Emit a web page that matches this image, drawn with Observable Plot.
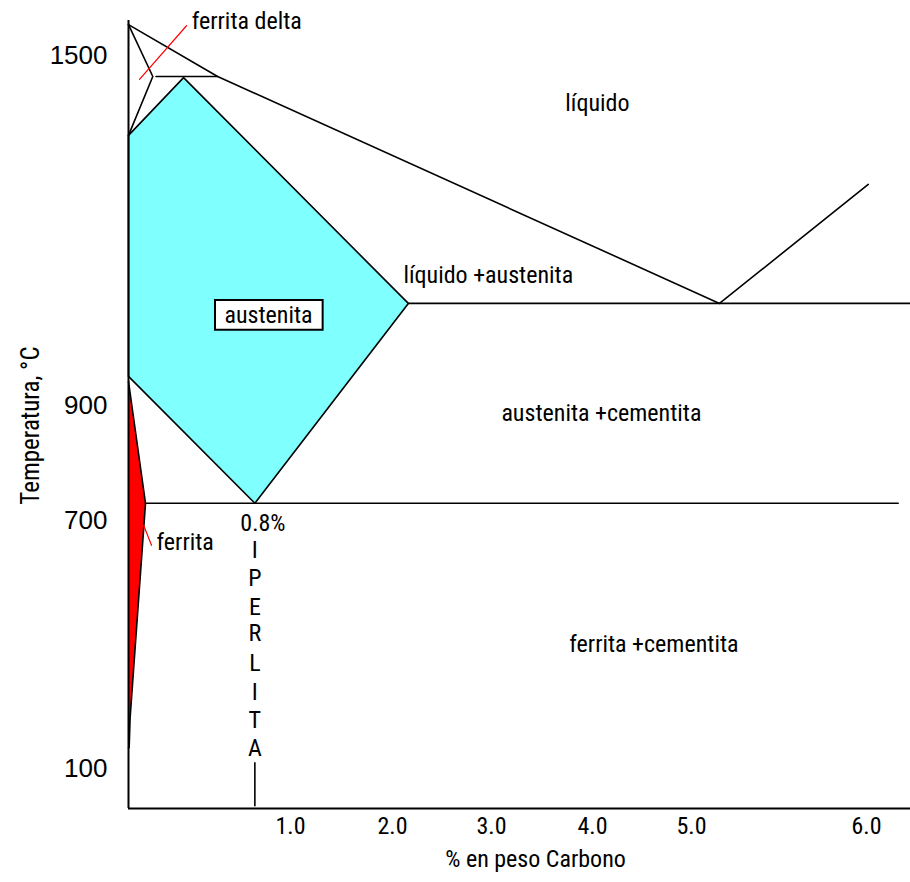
<!DOCTYPE html>
<html>
<head>
<meta charset="utf-8">
<script src="https://cdn.jsdelivr.net/npm/d3@7"></script>
<script src="https://cdn.jsdelivr.net/npm/@observablehq/plot@0.6"></script>
<style>
  body { margin: 0; background: #fff; }
  #chart svg { display: block; }
  #chart g[aria-label="y-axis tick label"] text { font-family: 'Liberation Sans', Arial, sans-serif; }
</style>
</head>
<body>
<div id="chart"></div>
<script>
// ---- Tick labels of the schematic diagram ----
const xTicks = [1, 2, 3, 4, 5, 6];          // % en peso Carbono
const yTicks = [100, 700, 900, 1500];       // Temperatura, °C

// Breakpoints of the (non-uniform, schematic) axes
const xBreaks = [0, 1, 2, 3, 4, 5, 6, 6.25];
const yBreaks = [0, 100, 700, 900, 1500, 1560];

// ---- Phase boundaries (c = % C, t = °C) ----
const liquidus   = [{c: 0, t: 1553}, {c: 0.55, t: 1464}, {c: 5.16, t: 1075}, {c: 6.01, t: 1279}];
const deltaLines = [{c: 0, t: 1553}, {c: 0.15, t: 1464}, {c: 0, t: 1363}];
const peritectic = [{c: 0.17, t: 1464}, {c: 0.55, t: 1464}];
const austenite  = [{c: 0, t: 1363}, {c: 0.34, t: 1462}, {c: 2.16, t: 1075}, {c: 0.78, t: 730}, {c: 0, t: 950}, {c: 0, t: 1363}];
const eutectic   = [{c: 2.16, t: 1075}, {c: 6.25, t: 1075}];
const eutectoid  = [{c: 0.105, t: 730}, {c: 6.18, t: 730}];
const ferrite    = [{c: 0, t: 941}, {c: 0.105, t: 730}, {c: 0.01, t: 223}, {c: 0.004, t: 150}, {c: 0, t: 150}];
const perlitaBar = [{c: 0.78, t: 114}, {c: 0.78, t: 7}];

// Red leader lines
const deltaPointer   = [{c: 0.068, t: 1459}, {c: 0.358, t: 1551}];
const ferritaPointer = [{c: 0.094, t: 688}, {c: 0.142, t: 640}];

// ---- Labels ----
const labelsMiddle = [
  {text: "líquido", c: 4.05, t: 1418},
  {text: "austenita +cementita", c: 4.09, t: 886},
  {text: "ferrita +cementita", c: 4.62, t: 400},
  {text: "austenita", c: 0.864, t: 1054},
  {text: "0.8%", c: 0.83, t: 692}
];
const labelsStart = [
  {text: "ferrita delta", c: 0.39, t: 1558},
  {text: "líquido +austenita", c: 2.11, t: 1123},
  {text: "ferrita", c: 0.173, t: 647}
];
const perlitaLetters = ["I", "P", "E", "R", "L", "I", "T", "A"];
const perlitaTemps   = [627, 560, 489, 427, 354, 284, 216, 148];
const perlita = perlitaLetters.map((L, i) => ({text: L, c: 0.78, t: perlitaTemps[i]}));

const austeniteBox = [{c1: 0.537, c2: 1.32, t1: 1029, t2: 1080}];

const FONT = "'Roboto Condensed', 'Liberation Sans', sans-serif";
const FS = 24;

const chart = Plot.plot({
  width: 910,
  height: 882,
  marginLeft: 128,
  marginRight: 0,
  marginTop: 20,
  marginBottom: 74,
  style: {fontFamily: FONT, background: "#fff", color: "#000"},
  x: {type: "linear", domain: xBreaks, range: [128, 290, 392, 491, 592, 691, 866, 910]},
  y: {type: "linear", domain: yBreaks, range: [808, 768, 520, 405, 55, 20]},
  marks: [
    // filled phase regions
    Plot.line(austenite, {x: "c", y: "t", fill: "#80ffff", stroke: "#000", strokeWidth: 1.6}),
    Plot.line(ferrite, {x: "c", y: "t", fill: "#ff0000", stroke: "#000", strokeWidth: 1.6}),
    // boundaries
    Plot.line(liquidus, {x: "c", y: "t", stroke: "#000", strokeWidth: 1.6}),
    Plot.line(deltaLines, {x: "c", y: "t", stroke: "#000", strokeWidth: 1.6}),
    Plot.line(peritectic, {x: "c", y: "t", stroke: "#000", strokeWidth: 1.6}),
    Plot.line(eutectic, {x: "c", y: "t", stroke: "#000", strokeWidth: 1.6}),
    Plot.line(eutectoid, {x: "c", y: "t", stroke: "#000", strokeWidth: 1.6}),
    Plot.line(perlitaBar, {x: "c", y: "t", stroke: "#000", strokeWidth: 1.6}),
    Plot.line(deltaPointer, {x: "c", y: "t", stroke: "#ff0000", strokeWidth: 1.2}),
    Plot.line(ferritaPointer, {x: "c", y: "t", stroke: "#ff0000", strokeWidth: 1.2}),
    // label box
    Plot.rect(austeniteBox, {x1: "c1", x2: "c2", y1: "t1", y2: "t2", fill: "#fff", stroke: "#000", strokeWidth: 2}),
    // texts
    Plot.text(labelsMiddle, {x: "c", y: "t", text: "text", textAnchor: "middle", fontSize: FS, fill: "#000"}),
    Plot.text(labelsStart, {x: "c", y: "t", text: "text", textAnchor: "start", fontSize: FS, fill: "#000"}),
    Plot.text(perlita, {x: "c", y: "t", text: "text", textAnchor: "middle", fontSize: FS, fill: "#000"}),
    // axes
    Plot.ruleX([0], {y1: 0, y2: 1560, stroke: "#000", strokeWidth: 2}),
    Plot.ruleY([0], {x1: 0, x2: 6.25, stroke: "#000", strokeWidth: 2}),
    Plot.axisX(xTicks, {tickSize: 0, tickPadding: 8, tickFormat: d3.format(".1f"), fontSize: FS, label: null}),
    Plot.axisY(yTicks, {tickSize: 0, tickPadding: 21, tickFormat: d => String(d), fontSize: 26, label: null}),
    Plot.text(["% en peso Carbono"], {frameAnchor: "bottom", dx: 16, dy: 58, fontSize: 24, textAnchor: "middle"}),
    Plot.text(["Temperatura, °C"], {frameAnchor: "left", rotate: -90, dx: -98, dy: 11, fontSize: 25, textAnchor: "middle"})
  ]
});
document.getElementById("chart").append(chart);
</script>
</body>
</html>
